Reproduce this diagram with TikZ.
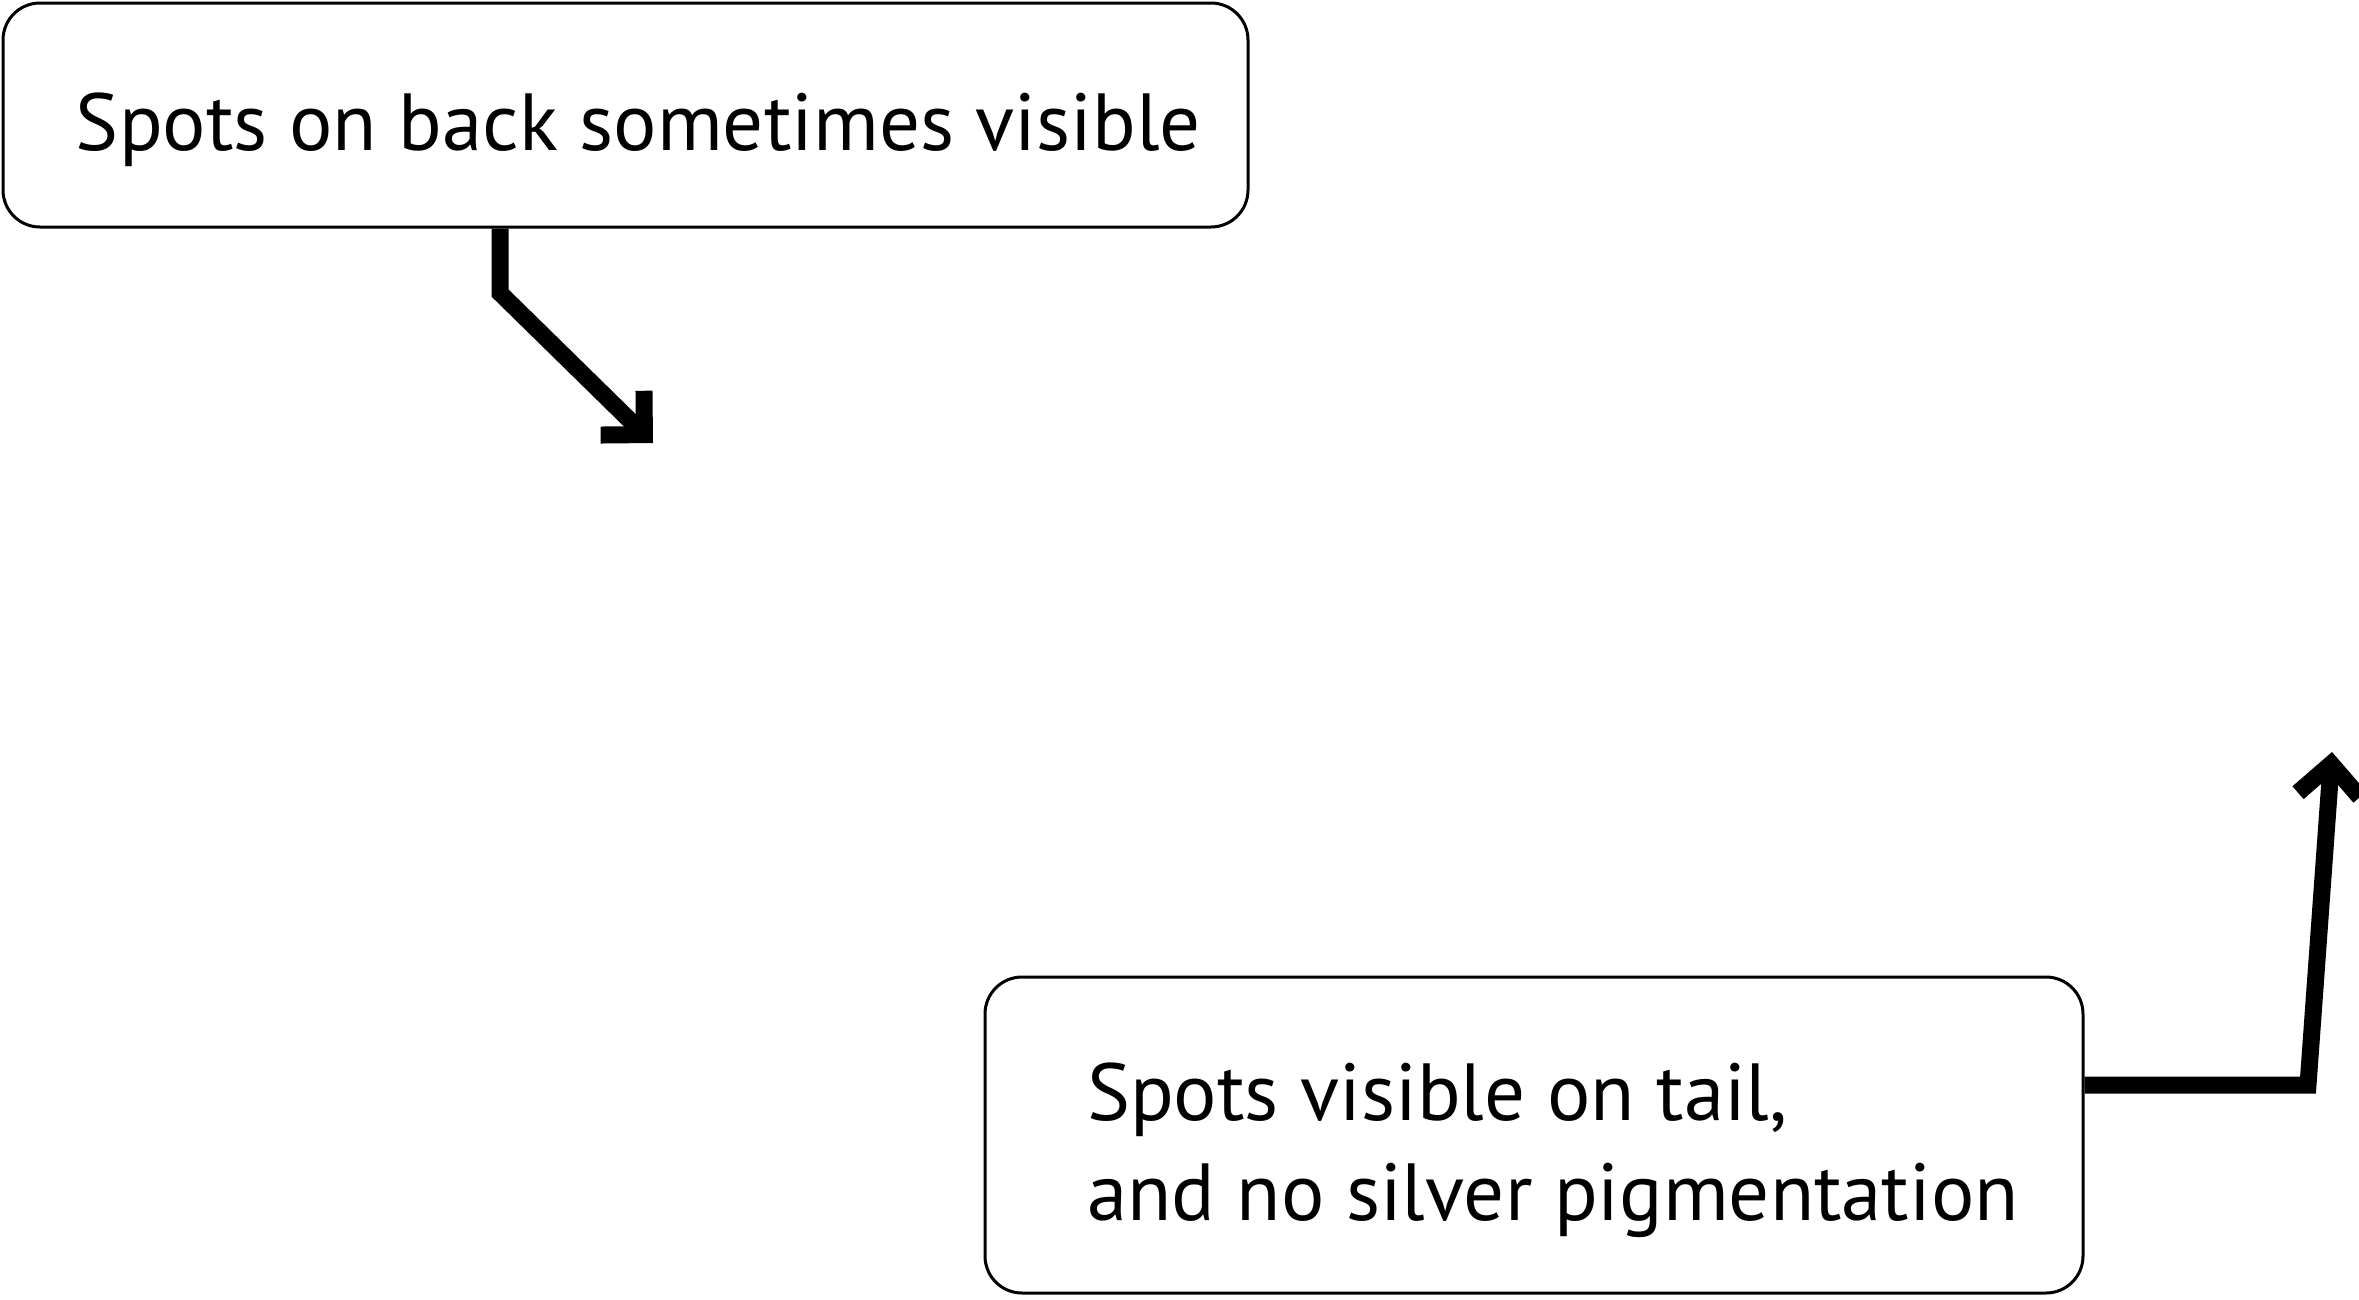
\documentclass[tikz,border=0pt]{standalone}
\usepackage{fontspec}
\setmainfont{PT Sans}
\usetikzlibrary{arrows.meta}
\newcommand\notelead[1]{\hspace*{#1}\rule{0pt}{88pt}}
\tikzset{
  notebox/.style={draw=black, line width=3pt, rounded corners=37pt, fill=white,
    align=left, inner sep=0pt, font=\fontsize{81}{100}\selectfont},
  pointer/.style={line width=17pt, -{Straight Barb[length=31pt, width=62pt]}}
}
\begin{document}
\begin{tikzpicture}[x=1pt, y=-1pt]
        \useasboundingbox (0,0) rectangle (2359,1299);
        \node[notebox, minimum width=1245pt, minimum height=224pt] (back) at (625.5,115) {\notelead{26pt}Spots on back sometimes visible};
        \node[notebox, minimum width=1098pt, minimum height=316pt] (tail) at (1534,1135) {\notelead{38pt}Spots visible on tail,\\\hspace*{38pt}and no silver pigmentation};
        \coordinate (backbend) at (500,293);
        \coordinate (backtip) at (653,443);
        \coordinate (tailbend) at (2308,1085);
        \coordinate (tailtip) at (2332,752);
        \draw[pointer] (backbend |- back.south) -- (backbend) -- (backtip);
        \draw[pointer] (tailbend -| tail.east) -- (tailbend) -- (tailtip);
    \end{tikzpicture}
\end{document}
